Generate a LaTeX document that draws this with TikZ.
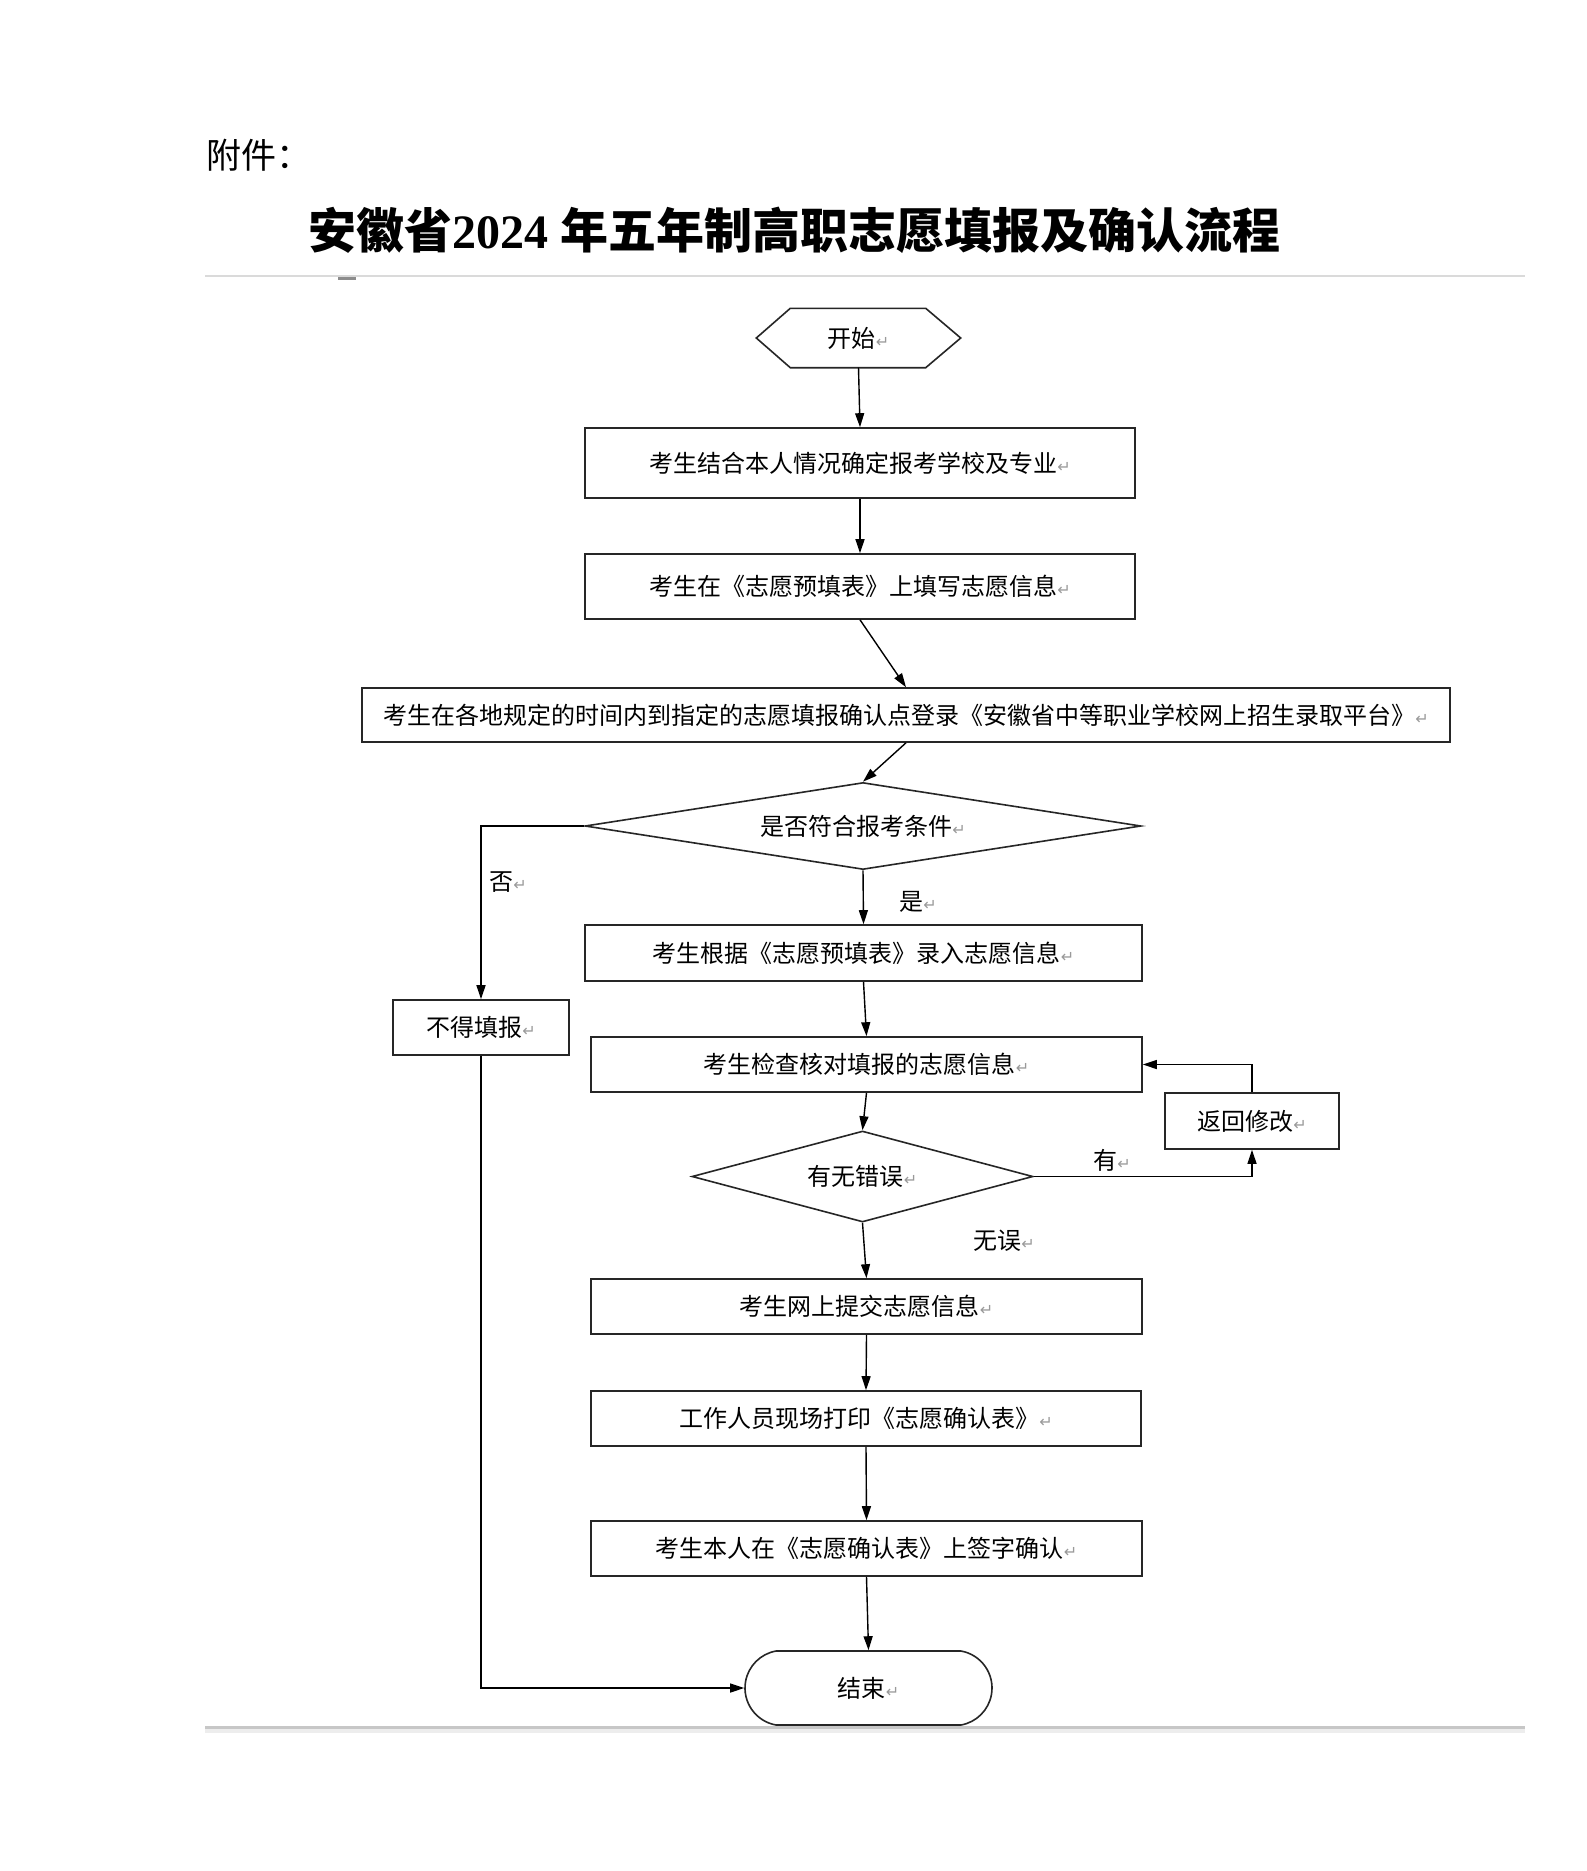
\documentclass[tikz,border=0pt]{standalone}
\usepackage{fontspec}
\usetikzlibrary{arrows.meta,shapes.geometric,shapes.misc}
\newfontfamily\cjk{Noto Sans CJK SC}
\newfontfamily\dvs{DejaVu Sans}
\newfontfamily\tsb{Liberation Serif}
\definecolor{retgray}{HTML}{9A9A9A}
\definecolor{rulegray}{HTML}{DADADA}
\newcommand\rmk{{\dvs\fontsize{16}{16}\selectfont\textcolor{retgray}{↵}}}
\begin{document}
\begin{tikzpicture}[x=1pt,y=-1pt,
  box/.style={draw=black!85,line width=1.6pt,inner sep=0pt,font=\cjk\fontsize{24}{24}\selectfont,text=black},
  lab/.style={inner sep=0pt,font=\cjk\fontsize{24}{24}\selectfont,text=black},
  arr/.style={-{Triangle[length=14pt,width=9pt]},line width=1.4pt,black}]
\useasboundingbox[fill=white] (0,0) rectangle (1587,1871);

% header
\node[anchor=west,inner sep=0pt,font=\cjk\fontsize{35}{35}\selectfont] (att) at (206,155) {附件：};
\node[anchor=west,inner sep=0pt,font=\cjk\bfseries\fontsize{48}{48}\selectfont] (title) at (308,230)
  {安徽省{\tsb\bfseries 2024 }年五年制高职志愿填报及确认流程};
\draw[rulegray,line width=2pt] (205,276) -- (1525,276);
\draw[black!45,line width=3pt] (338,278) -- (356,278);
\draw[black!22,line width=3pt] (205,1727) -- (1525,1727);
\draw[black!7,line width=4pt] (205,1731) -- (1525,1731);

% start hexagon
\node[lab,minimum width=204pt,minimum height=59pt] (start) at (858.5,338) {开始\rmk};
\draw[draw=black!85,line width=1.6pt] (start.west) -- ([xshift=34pt]start.north west) -- ([xshift=-35pt]start.north east)
  -- (start.east) -- ([xshift=-35pt]start.south east) -- ([xshift=34pt]start.south west) -- cycle;

% boxes
\node[box,minimum width=550pt,minimum height=70pt] (b1) at (860,463) {考生结合本人情况确定报考学校及专业\rmk};
\node[box,minimum width=550pt,minimum height=65pt] (b2) at (860,586.5) {考生在《志愿预填表》上填写志愿信息\rmk};
\node[box,minimum width=1088pt,minimum height=54pt] (b3) at (906,715) {考生在各地规定的时间内到指定的志愿填报确认点登录《安徽省中等职业学校网上招生录取平台》\rmk};
\node[box,diamond,shape aspect=6.4,minimum width=556pt,minimum height=87pt] (d1) at (863,826) {是否符合报考条件\rmk};
\node[box,minimum width=176pt,minimum height=55pt] (nofill) at (481,1027.5) {不得填报\rmk};
\node[box,minimum width=557pt,minimum height=56pt] (b4) at (863.5,953) {考生根据《志愿预填表》录入志愿信息\rmk};
\node[box,minimum width=551pt,minimum height=55pt] (b5) at (866.5,1064.5) {考生检查核对填报的志愿信息\rmk};
\node[box,diamond,shape aspect=3.75,minimum width=341pt,minimum height=91pt] (d2) at (862.5,1176.5) {有无错误\rmk};
\node[box,minimum width=174pt,minimum height=56pt] (fix) at (1252,1121) {返回修改\rmk};
\node[box,minimum width=551pt,minimum height=55pt] (b6) at (866.5,1306.5) {考生网上提交志愿信息\rmk};
\node[box,minimum width=550pt,minimum height=55pt] (b7) at (866,1418.5) {工作人员现场打印《志愿确认表》\rmk};
\node[box,minimum width=551pt,minimum height=55pt] (b8) at (866.5,1548.5) {考生本人在《志愿确认表》上签字确认\rmk};
\node[box,rounded rectangle,rounded rectangle arc length=160,minimum width=247pt,minimum height=74pt] (end) at (868.5,1688) {结束\rmk};

% labels
\node[lab] (lno) at (508,882) {否\rmk};
\node[lab] (lyes) at (918,902) {是\rmk};
\node[lab] (lhas) at (1112,1160) {有\rmk};
\node[lab] (lok) at (1004,1241) {无误\rmk};

% connectors
\draw[arr] (start.south) -- (b1.north);
\draw[arr] (b1.south) -- (b2.north);
\draw[arr] (b2.south) -- (b3.north);
\draw[arr] (b3.south) -- (d1.north);
\draw[arr] (d1.south) -- (b4.north);
\draw[arr] (d1.west) -| (nofill.north);
\draw[arr] (nofill.south) |- (end.west);
\draw[arr] (b4.south) -- (b5.north);
\draw[arr] (b5.south) -- (d2.north);
\draw[arr] (d2.east) -| (fix.south);
\draw[arr] (fix.north) |- (b5.east);
\draw[arr] (d2.south) -- (b6.north);
\draw[arr] (b6.south) -- (b7.north);
\draw[arr] (b7.south) -- (b8.north);
\draw[arr] (b8.south) -- (end.north);
\end{tikzpicture}
\end{document}
